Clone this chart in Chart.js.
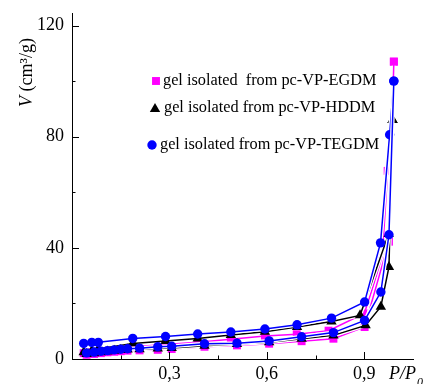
<!DOCTYPE html>
<html>
<head>
<meta charset="utf-8">
<script src="https://cdn.jsdelivr.net/npm/chart.js@4/dist/chart.umd.min.js"></script>
<style>
html,body{margin:0;padding:0;background:#fff;}
#wrap{position:relative;width:424px;height:384px;}
</style>
</head>
<body>
<div id="wrap"><canvas id="c" width="424" height="384"></canvas></div>
<script>
// ---- data (P/P0, V cm3/g) ----
const egdmAdsX = [0.045,0.068,0.089,0.109,0.130,0.150,0.171,0.208,0.264,0.307,0.408,0.508,0.607,0.707,0.805,0.901,0.976,0.991];
const egdmAdsV = [1.5,1.8,2.1,2.4,2.6,2.8,3.0,3.1,3.3,3.6,4.4,4.9,5.5,6.4,7.3,11.5,42.2,107];
const egdmDesX = [0.991,0.972,0.955,0.900,0.790,0.692,0.594,0.489,0.387,0.288,0.187,0.081,0.061,0.036];
const egdmDesV = [107,67.7,36.2,16.4,10.2,8.9,8.3,7.1,6.0,5.2,4.4,2.6,2.4,2.1];

const hddmAdsX = [0.045,0.068,0.089,0.109,0.130,0.150,0.171,0.208,0.264,0.307,0.408,0.508,0.607,0.707,0.805,0.904,0.951,0.976,0.987];
const hddmAdsV = [1.8,2.1,2.4,2.7,3.0,3.2,3.4,3.5,3.8,4.0,4.8,5.4,6.0,7.3,8.5,12.1,18.8,33.1,86];
const hddmDesX = [0.987,0.975,0.887,0.799,0.693,0.594,0.489,0.387,0.288,0.187,0.081,0.061,0.036];
const hddmDesV = [86,45,15.7,13.5,11.5,9.8,8.6,7.4,6.5,5.6,3.6,3.0,2.4];

const tegdmAdsX = [0.045,0.068,0.089,0.109,0.130,0.150,0.171,0.208,0.264,0.307,0.408,0.508,0.607,0.707,0.805,0.901,0.951,0.976,0.991];
const tegdmAdsV = [2.2,2.5,2.8,3.0,3.3,3.5,3.7,3.9,4.4,4.6,5.5,5.7,6.5,8.0,9.5,13.9,24.1,44.7,100];
const tegdmDesX = [0.991,0.978,0.950,0.901,0.799,0.693,0.594,0.489,0.387,0.288,0.187,0.081,0.061,0.036];
const tegdmDesV = [100,80.7,41.8,20.5,14.7,12.3,10.8,9.7,9.0,8.1,7.4,6.0,6.0,5.6];

const seriesNames = ['gel isolated  from pc-VP-EGDM','gel isolated from pc-VP-HDDM','gel isolated from pc-VP-TEGDM'];

const xTickValues = [0.3,0.6,0.9];
const xTickLabels = ['0,3','0,6','0,9'];
const xMinorTicks = [0.15,0.45,0.75];
const yTickValues = [0,40,80,120];
const yTickLabels = ['0','40','80','120'];
const yMinorTicks = [20,60,100];

const MAGENTA = '#ff00ff', BLACK = '#000000', BLUE = '#0000ff';
const pts = (xs, ys) => xs.map((x, i) => ({x: x, y: ys[i]}));

function ds(xs, ys, color, shape, r) {
  return {
    data: pts(xs, ys), showLine: true, borderColor: color, backgroundColor: color,
    borderWidth: 1.5, pointStyle: shape, pointRadius: r, pointHoverRadius: r,
    pointBorderWidth: 0, tension: 0
  };
}

const datasets = [
  ds(tegdmAdsX, tegdmAdsV, BLUE, 'circle', 4.7),
  ds(tegdmDesX, tegdmDesV, BLUE, 'circle', 4.7),
  ds(hddmAdsX, hddmAdsV, BLACK, 'triangle', 6),
  ds(hddmDesX, hddmDesV, BLACK, 'triangle', 6),
  ds(egdmAdsX, egdmAdsV, MAGENTA, 'rect', 5.6),
  ds(egdmDesX, egdmDesV, MAGENTA, 'rect', 5.6)
];

const SERIF = "'Liberation Serif', 'Times New Roman', serif";

const decor = {
  id: 'decor',
  beforeDatasetDraw(chart, args) {
    const ctx = chart.ctx, p = args.meta.data;
    ctx.save();
    ctx.beginPath();
    p.forEach((e, i) => i ? ctx.lineTo(e.x, e.y) : ctx.moveTo(e.x, e.y));
    ctx.strokeStyle = '#ffffff';
    ctx.lineWidth = 4;
    ctx.lineJoin = 'round';
    ctx.stroke();
    ctx.restore();
  },
  afterDraw(chart) {
    const ctx = chart.ctx, xs = chart.scales.x, ys = chart.scales.y;
    const a = chart.chartArea;
    ctx.save();
    ctx.strokeStyle = '#000';
    ctx.lineWidth = 1;
    // inward ticks
    xTickValues.forEach(v => { const px = Math.round(xs.getPixelForValue(v)) + 0.5; ctx.beginPath(); ctx.moveTo(px, a.bottom); ctx.lineTo(px, a.bottom - 7); ctx.stroke(); });
    xMinorTicks.forEach(v => { const px = Math.round(xs.getPixelForValue(v)) + 0.5; ctx.beginPath(); ctx.moveTo(px, a.bottom); ctx.lineTo(px, a.bottom - 3.5); ctx.stroke(); });
    yTickValues.forEach(v => { const py = Math.round(ys.getPixelForValue(v)) + 0.5; ctx.beginPath(); ctx.moveTo(a.left, py); ctx.lineTo(a.left + 7, py); ctx.stroke(); });
    yMinorTicks.forEach(v => { const py = Math.round(ys.getPixelForValue(v)) + 0.5; ctx.beginPath(); ctx.moveTo(a.left, py); ctx.lineTo(a.left + 3.5, py); ctx.stroke(); });

    // axis titles
    ctx.fillStyle = '#000';
    ctx.textBaseline = 'alphabetic';
    ctx.textAlign = 'left';
    ctx.font = 'italic 18px ' + SERIF;
    ctx.fillText('P/P', 389, 379);
    ctx.font = 'italic 12px ' + SERIF;
    ctx.fillText('0', 417, 386);

    ctx.save();
    ctx.translate(32, 107);
    ctx.rotate(-Math.PI / 2);
    ctx.font = 'italic 18px ' + SERIF;
    ctx.fillText('V', 0, 0);
    let w = ctx.measureText('V').width;
    ctx.font = '18px ' + SERIF;
    ctx.fillText(' (cm³/g)', w, 0);
    ctx.restore();

    // legend
    const leg = [
      {y: 81, color: MAGENTA, shape: 'rect', r: 5.6, mx: 156, tx: 163},
      {y: 108, color: BLACK, shape: 'triangle', r: 6, mx: 155, tx: 164},
      {y: 145, color: BLUE, shape: 'circle', r: 4.7, mx: 152, tx: 160}
    ];
    ctx.font = '16.3px ' + SERIF;
    ctx.textBaseline = 'middle';
    leg.forEach((l, i) => {
      ctx.fillStyle = l.color;
      ctx.strokeStyle = l.color;
      Chart.helpers.drawPoint(ctx, {pointStyle: l.shape, radius: l.r, borderWidth: 0}, l.mx, l.y + (l.shape === 'triangle' ? 1 : 0));
      ctx.fillStyle = '#000';
      ctx.fillText(seriesNames[i], l.tx, l.y);
    });
    ctx.restore();
  }
};

new Chart(document.getElementById('c'), {
  type: 'scatter',
  data: { datasets: datasets },
  options: {
    responsive: false,
    animation: false,
    events: [],
    layout: { padding: { top: 13, right: 11, left: 0, bottom: 0 } },
    plugins: { legend: { display: false }, tooltip: { enabled: false } },
    scales: {
      x: {
        type: 'linear', min: 0, max: 1.05,
        grid: { display: false, drawTicks: false },
        border: { display: true, color: '#000', width: 1 },
        afterBuildTicks: s => { s.ticks = xTickValues.map(v => ({value: v})); },
        afterFit: s => { s.height = 25; },
        ticks: {
          padding: 4, color: '#000', font: { family: SERIF, size: 18 }, maxRotation: 0,
          callback: v => { const i = xTickValues.findIndex(t => Math.abs(t - v) < 1e-6); return i >= 0 ? xTickLabels[i] : ''; }
        }
      },
      y: {
        type: 'linear', min: 0, max: 124.5,
        grid: { display: false, drawTicks: false },
        border: { display: true, color: '#000', width: 1 },
        afterBuildTicks: s => { s.ticks = yTickValues.map(v => ({value: v})); },
        afterFit: s => { s.width = 72; },
        ticks: {
          padding: 8, color: '#000', font: { family: SERIF, size: 18, lineHeight: 0.1 },
          callback: v => { const i = yTickValues.indexOf(v); return i >= 0 ? yTickLabels[i] : ''; }
        }
      }
    }
  },
  plugins: [decor]
});
</script>
</body>
</html>
